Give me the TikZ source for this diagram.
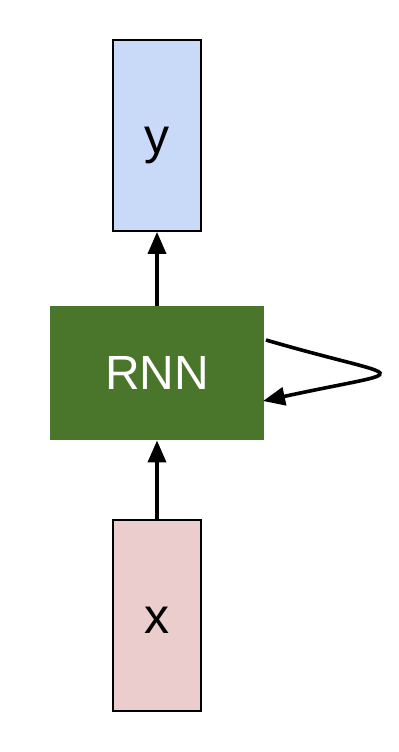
\documentclass[tikz,border=0pt]{standalone}
\usepackage{fontspec}
\setmainfont{Liberation Sans}
\usetikzlibrary{arrows.meta}
\definecolor{ybluefill}{HTML}{C9DAF8}
\definecolor{rnngreen}{HTML}{4A762C}
\definecolor{xpinkfill}{HTML}{EBCDCD}
\tikzset{
  iobox/.style={draw=black,line width=.9pt,minimum width=44pt,minimum height=95.5pt,inner sep=0pt,text height=22.5pt,text depth=5pt,font=\fontsize{25}{29}\selectfont},
  rnnbox/.style={fill=rnngreen,draw=none,minimum width=107pt,minimum height=67pt,inner sep=0pt,text=white,font=\fontsize{24}{28}\selectfont},
  flow/.style={line width=1.8pt,-{Triangle[length=11pt,width=9pt]}}
}
\begin{document}
\begin{tikzpicture}[x=1pt,y=1pt]
\useasboundingbox (0,0) rectangle (199,-376);
\node[iobox,fill=ybluefill] (ybox) at (78.5,-67.75) {y};
\node[rnnbox] (rnn) at (78.5,-186.5) {RNN};
\node[iobox,fill=xpinkfill] (xbox) at (78.5,-307.75) {x};
\draw[flow] (rnn) -- (ybox);
\draw[flow] (xbox) -- (rnn);
% recurrent loop
\coordinate (loopout) at (133,-170);
\coordinate (loopin) at (131.5,-200.5);
\draw[flow] (loopout) .. controls (205,-191) and (210,-183.5) .. (loopin);
\end{tikzpicture}
\end{document}
